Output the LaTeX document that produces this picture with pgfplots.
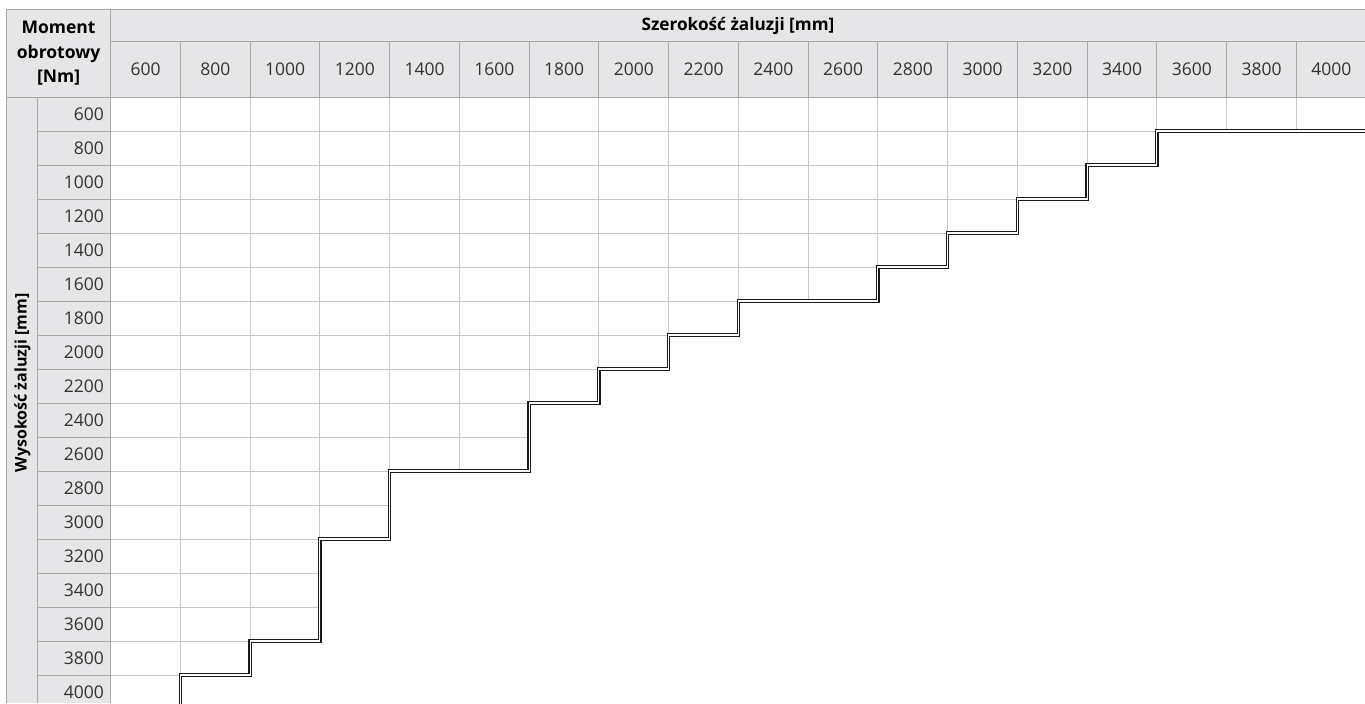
\documentclass[border=0pt]{standalone}
\usepackage{pgfplots}
\pgfplotsset{compat=1.18}
\usepackage{pgfplotstable}
\usepackage{fontspec}
\setmainfont{Open Sans}
\definecolor{hdr}{HTML}{E6E6E8}
\definecolor{hline}{HTML}{A8A8A8}
\definecolor{gline}{HTML}{C8C8C8}
\definecolor{stair}{HTML}{1A1A1A}

% widest column (Szerokosc) -> largest allowed height (Wysokosc)
\pgfplotstableread{
w h
600 4000
800 3800
1000 3600
1200 3000
1400 2600
1600 2600
1800 2200
2000 2000
2200 1800
2400 1600
2600 1600
2800 1400
3000 1200
3200 1000
3400 800
3600 600
3800 600
4000 600
}\maxtable

\begin{document}
\begin{tikzpicture}
\begin{axis}[
  scale only axis, width=1365pt, height=703pt,
  xmin=182.6, xmax=4096.6, ymin=-70.6, ymax=4064.7, y dir=reverse,
  axis line style={draw=none}, ticks=none,
]
% header and left backgrounds
\fill[hdr] (axis cs:201.2,-11.8) rectangle (axis cs:4096.6,500);
\fill[hdr] (axis cs:201.2,500) rectangle (axis cs:500,4064.7);
% data grid
\pgfplotsinvokeforeach{700,900,...,3900}{
  \draw[gline, line width=1pt] (axis cs:#1,500) -- (axis cs:#1,4064.7);
  \draw[gline, line width=1pt] (axis cs:500,#1) -- (axis cs:4096.6,#1);
}
% area outside the allowed range
\addplot[fill=white, draw=none, const plot mark right]
  table[x expr=\thisrow{w}+100, y expr=\thisrow{h}+100]{\maxtable}
  -- (axis cs:4096.6,700) -- (axis cs:4096.6,4064.7) -- (axis cs:700,4064.7) -- cycle;
% header lines
\pgfplotsinvokeforeach{700,900,...,3900}{
  \draw[hline, line width=1pt] (axis cs:#1,173.5) -- (axis cs:#1,500);
  \draw[hline, line width=1pt] (axis cs:291.5,#1) -- (axis cs:500,#1);
}
\draw[hline, line width=1pt] (axis cs:201.2,-11.8) -- (axis cs:4096.6,-11.8);
\draw[hline, line width=1pt] (axis cs:500,173.5) -- (axis cs:4096.6,173.5);
\draw[hline, line width=1pt] (axis cs:201.2,500) -- (axis cs:4096.6,500);
\draw[hline, line width=1pt] (axis cs:201.2,-11.8) -- (axis cs:201.2,4064.7);
\draw[hline, line width=1pt] (axis cs:500,-11.8) -- (axis cs:500,4064.7);
\draw[hline, line width=1pt] (axis cs:291.5,500) -- (axis cs:291.5,4064.7);
% staircase boundary (double line)
\addplot[const plot mark right, mark=none, draw=stair, line width=3.4pt]
  table[x expr=\thisrow{w}+100, y expr=\thisrow{h}+100]{\maxtable};
\addplot[const plot mark right, mark=none, draw=white, line width=1.1pt]
  table[x expr=\thisrow{w}+100, y expr=\thisrow{h}+100]{\maxtable};
% labels
\pgfplotsinvokeforeach{600,800,...,4000}{
  \node[anchor=east, font=\fontsize{17.5}{22}\selectfont, text=black!80, inner sep=0pt] at (axis cs:480.8,#1) {#1};
  \node[font=\fontsize{17.5}{22}\selectfont, text=black!80, inner sep=0pt] at (axis cs:#1,335.3) {#1};
}
\node[font=\fontsize{17.2}{22}\selectfont\bfseries, inner sep=0pt] at (axis cs:2298.7,79.4) {Szerokość żaluzji [mm]};
\node[font=\fontsize{17.5}{24.5}\selectfont\bfseries, align=center, inner sep=0pt] at (axis cs:350.6,244.1) {Moment\\obrotowy\\{[}Nm]};
\node[font=\fontsize{16}{20}\selectfont\bfseries, rotate=90, inner sep=0pt] at (axis cs:247.1,2182) {Wysokość żaluzji [mm]};
\end{axis}
\pgfresetboundingbox
\path (current axis.south west) rectangle (current axis.north east);
\end{tikzpicture}
\end{document}
